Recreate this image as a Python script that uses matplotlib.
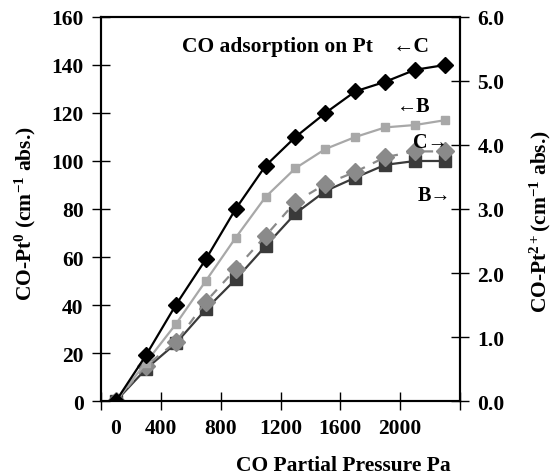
import matplotlib
matplotlib.use("Agg")
import matplotlib.pyplot as plt

# CO partial pressure (Pa)
pressure = [100, 300, 500, 700, 900, 1100, 1300, 1500, 1700, 1900, 2100, 2300]

# left axis: CO-Pt0 band
pt0_c = [0, 19, 40, 59, 80, 98, 110, 120, 129, 133, 138, 140]
pt0_b = [0, 16, 32, 50, 68, 85, 97, 105, 110, 114, 115, 117]

# right axis: CO-Pt2+ band
pt2_c = [0, 0.55, 0.92, 1.55, 2.06, 2.58, 3.11, 3.39, 3.58, 3.81, 3.90, 3.90]
pt2_b = [0, 0.50, 0.90, 1.43, 1.90, 2.42, 2.93, 3.28, 3.49, 3.69, 3.75, 3.75]

xticks = [400, 800, 1200, 1600, 2000]
left_ticks = [0, 20, 40, 60, 80, 100, 120, 140, 160]
right_ticks = [0, 1, 2, 3, 4, 5, 6]

serif = ["Liberation Serif", "DejaVu Serif"]
plt.rcParams["font.family"] = serif
plt.rcParams["font.weight"] = "bold"
plt.rcParams["mathtext.fontset"] = "custom"
plt.rcParams["mathtext.rm"] = "Liberation Serif:bold"
plt.rcParams["mathtext.bf"] = "Liberation Serif:bold"
plt.rcParams["mathtext.it"] = "Liberation Serif:bold"

fs = 15.5

fig = plt.figure(figsize=(5.6, 4.77), dpi=100)
ax = fig.add_axes([0.1804, 0.1572, 0.6410, 0.8051])
ax2 = ax.twinx()

# Pt2+ series (right axis), drawn first so the Pt0 lines sit on top
ax2.plot(pressure, pt2_b, color="#3a3a3a", lw=1.6, marker="s", ms=8.5,
         mec="#3a3a3a", mfc="#3a3a3a")
ax2.plot(pressure, pt2_c, color="#8a8a8a", lw=1.6, ls=(0, (4, 4)),
         marker="D", ms=9.5, mec="#8a8a8a", mfc="#8a8a8a")

ax.plot(pressure, pt0_b, color="#a8a8a8", lw=1.6, marker="s", ms=5.5,
        mec="#a8a8a8", mfc="#a8a8a8", zorder=3)
ax.plot(pressure, pt0_c, color="black", lw=1.6, marker="D", ms=8.5,
        mec="black", mfc="black", zorder=4)
ax.set_zorder(ax2.get_zorder() + 1)
ax.patch.set_visible(False)

ax.set_xlim(0, 2400)
ax.set_ylim(0, 160)
ax2.set_ylim(0, 6)

ax.set_xticks([0] + xticks + [2400])
ax.set_xticklabels([""] + [str(v) for v in xticks] + [""])
ax.text(100, -0.07, "0", transform=ax.get_xaxis_transform(), ha="center",
        va="center", fontsize=fs, fontweight="bold")
ax.set_yticks(left_ticks)
ax2.set_yticks(right_ticks)
ax2.set_yticklabels(["%.1f" % v for v in right_ticks])

for a in (ax, ax2):
    for s in a.spines.values():
        s.set_linewidth(1.5)
    a.tick_params(direction="inout", length=13, width=1, labelsize=fs)
ax.tick_params(axis="x", pad=6)
ax.tick_params(axis="y", pad=6)
ax2.tick_params(axis="y", pad=6)

ax.set_xlabel("CO Partial Pressure Pa", fontsize=fs, fontweight="bold")
ax.xaxis.set_label_coords(0.674, -0.14)
ax.set_ylabel(r"CO-Pt$^{0}$ (cm$^{-1}$ abs.)", fontsize=fs, fontweight="bold")
ax.yaxis.set_label_coords(-0.175, 0.49)
ax2.set_ylabel(r"CO-Pt$^{2+}$(cm$^{-1}$ abs.)", fontsize=fs, fontweight="bold")
ax2.yaxis.set_label_coords(1.19, 0.47)

ax.text(540, 148, "CO adsorption on Pt", fontsize=fs, fontweight="bold",
        ha="left", va="center")
ax.text(2072, 148, "\u2190C", fontsize=fs, fontweight="bold", ha="center",
        va="center")
ax.text(2092, 123, "\u2190B", fontsize=14.5, fontweight="bold", ha="center",
        va="center")
ax.text(2200, 108, "C\u2192", fontsize=14.5, fontweight="bold", ha="center",
        va="center")
ax.text(2232, 86, "B\u2192", fontsize=14.5, fontweight="bold", ha="center",
        va="center")

fig.savefig("out.png", dpi=100)
